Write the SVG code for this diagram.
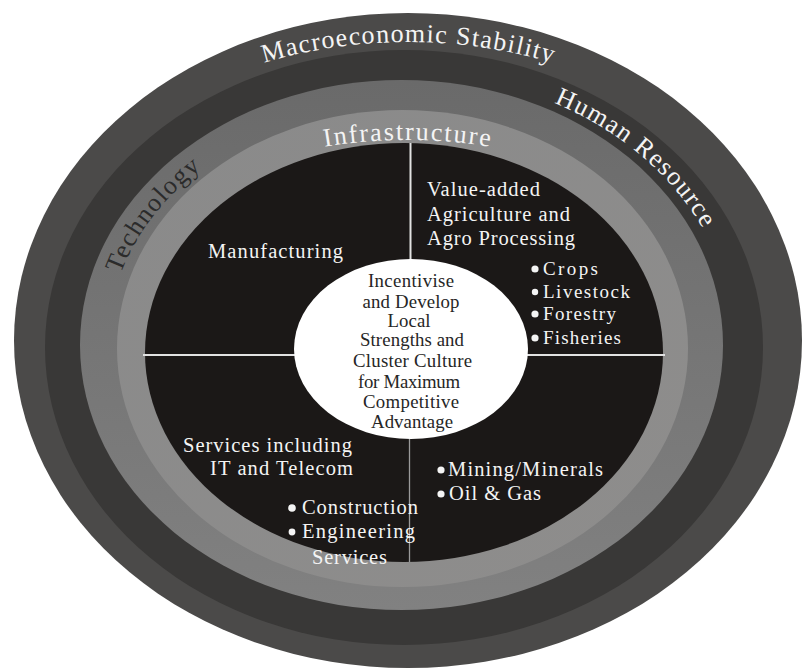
<svg xmlns="http://www.w3.org/2000/svg" width="803" height="670" viewBox="0 0 803 670" font-family="'Liberation Serif', 'DejaVu Serif', serif">
  <style>
    text { font-family: 'Liberation Serif', 'DejaVu Serif', serif; }
    .wt { fill: #f4f4f4; }
    .dk { fill: #2b2b2b; }
    .ctr { fill: #262626; font-size: 18.8px; text-anchor: middle; }
    .sec { font-size: 20.5px; }
    .itm { font-size: 19px; }
    .ring { font-size: 26px; }
    .bul { fill: #f4f4f4; }
    .div-hi { stroke: #e2e2e2; stroke-width: 2; fill: none; }
    .div-lo { stroke: #9a9a9a; stroke-width: 1.3; fill: none; }
  </style>
  <defs>
    <linearGradient id="g3" x1="0" y1="0" x2="0" y2="1">
      <stop offset="0" stop-color="#6a6a6a"/>
      <stop offset="1" stop-color="#818181"/>
    </linearGradient>
    <linearGradient id="g4" x1="0" y1="0" x2="1" y2="1">
      <stop offset="0" stop-color="#8a8a8a"/>
      <stop offset="1" stop-color="#8e8d8c"/>
    </linearGradient>
    <path id="macroPath" d="M8,352 A400,310 0 0 1 808,352"/>
    <path id="humanPath" d="M460.6,77.1 A332,273 0 0 1 731.8,308.0"/>
    <path id="techPath" d="M111.5,388.9 A295,243 0 0 1 310.8,115.6"/>
    <path id="infraPath" d="M77,350 A330,210 0 0 1 737,350"/>
  </defs>

  <rect width="803" height="670" fill="#ffffff"/>

  <g id="ring-macro">
    <ellipse cx="408" cy="340.5" rx="394" ry="327.5" fill="#4b4a49"/>
  </g>
  <g id="ring-human">
    <ellipse cx="404" cy="347.5" rx="359" ry="297.5" fill="#393837"/>
  </g>
  <g id="ring-tech">
    <ellipse cx="401.5" cy="345" rx="321.5" ry="265" fill="url(#g3)"/>
  </g>
  <g id="ring-infra">
    <ellipse cx="402.5" cy="348.5" rx="285.5" ry="238.5" fill="url(#g4)"/>
  </g>
  <g id="sectors">
    <ellipse cx="404" cy="352.5" rx="259" ry="209.5" fill="#1b1817"/>
  </g>

  <g id="dividers">
    <line class="div-hi" x1="143" y1="355" x2="665" y2="355"/>
    <line class="div-hi" x1="410.5" y1="143" x2="410.5" y2="300"/>
    <line class="div-lo" x1="409.5" y1="400" x2="409.5" y2="562"/>
  </g>

  <g id="core">
    <ellipse cx="411" cy="349" rx="117" ry="90" fill="#ffffff"/>
    <text class="ctr" x="411" y="287" textLength="86" lengthAdjust="spacing">Incentivise</text>
    <text class="ctr" x="411" y="307.5" textLength="97" lengthAdjust="spacing">and Develop</text>
    <text class="ctr" x="409" y="327" textLength="43" lengthAdjust="spacing">Local</text>
    <text class="ctr" x="412" y="346" textLength="104" lengthAdjust="spacing">Strengths and</text>
    <text class="ctr" x="412.5" y="367" textLength="119" lengthAdjust="spacing">Cluster Culture</text>
    <text class="ctr" x="409" y="387.5" textLength="102" lengthAdjust="spacing">for Maximum</text>
    <text class="ctr" x="411" y="408" textLength="96" lengthAdjust="spacing">Competitive</text>
    <text class="ctr" x="412" y="428" textLength="82" lengthAdjust="spacing">Advantage</text>
  </g>

  <g id="label-macro">
    <text class="wt ring" font-size="27"><textPath href="#macroPath" startOffset="50%" text-anchor="middle" textLength="292" lengthAdjust="spacing">Macroeconomic Stability</textPath></text>
  </g>
  <g id="label-human">
    <text class="wt ring"><textPath href="#humanPath" startOffset="196" text-anchor="middle" textLength="198" lengthAdjust="spacing">Human Resource</textPath></text>
  </g>
  <g id="label-tech">
    <text class="dk ring"><textPath href="#techPath" startOffset="184" text-anchor="middle" textLength="134" lengthAdjust="spacing">Technology</textPath></text>
  </g>
  <g id="label-infra">
    <text class="wt ring"><textPath href="#infraPath" startOffset="50%" text-anchor="middle" textLength="166" lengthAdjust="spacing">Infrastructure</textPath></text>
  </g>

  <g id="manufacturing">
    <text class="wt sec" x="208" y="258" textLength="135" lengthAdjust="spacing">Manufacturing</text>
  </g>

  <g id="agriculture">
    <text class="wt sec" x="427" y="196" textLength="113" lengthAdjust="spacing">Value-added</text>
    <text class="wt sec" x="427" y="221" textLength="143" lengthAdjust="spacing">Agriculture and</text>
    <text class="wt sec" x="427" y="245" textLength="148" lengthAdjust="spacing">Agro Processing</text>
    <circle class="bul" cx="535" cy="269" r="3.6"/>
    <text class="wt itm" x="543" y="275" textLength="55" lengthAdjust="spacing">Crops</text>
    <circle class="bul" cx="535" cy="292" r="3.2"/>
    <text class="wt itm" x="543" y="298" textLength="87" lengthAdjust="spacing">Livestock</text>
    <circle class="bul" cx="535" cy="314" r="3.6"/>
    <text class="wt itm" x="543" y="320" textLength="73" lengthAdjust="spacing">Forestry</text>
    <circle class="bul" cx="535" cy="338" r="3.6"/>
    <text class="wt itm" x="543" y="344" textLength="78" lengthAdjust="spacing">Fisheries</text>
  </g>

  <g id="services">
    <text class="wt sec" x="183" y="452" textLength="169" lengthAdjust="spacing">Services including</text>
    <text class="wt sec" x="210" y="475" textLength="143" lengthAdjust="spacing">IT and Telecom</text>
    <circle class="bul" cx="292" cy="508" r="3.8"/>
    <text class="wt sec" font-size="20" x="302" y="514" textLength="116" lengthAdjust="spacing">Construction</text>
    <circle class="bul" cx="292" cy="532" r="3.4"/>
    <text class="wt sec" font-size="20" x="302" y="538" textLength="113" lengthAdjust="spacing">Engineering</text>
    <text class="wt sec" font-size="20" x="312" y="564" textLength="75" lengthAdjust="spacing">Services</text>
  </g>

  <g id="mining">
    <circle class="bul" cx="441" cy="470" r="3.6"/>
    <text class="wt sec" x="448" y="476" textLength="155" lengthAdjust="spacing">Mining/Minerals</text>
    <circle class="bul" cx="441" cy="494" r="3.6"/>
    <text class="wt sec" x="449" y="500" textLength="92" lengthAdjust="spacing">Oil &amp; Gas</text>
  </g>
</svg>
